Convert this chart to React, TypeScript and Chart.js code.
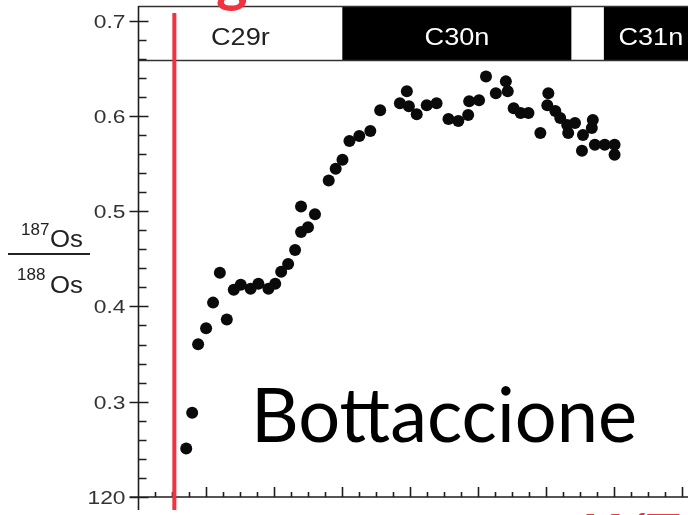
import React, { useEffect, useRef } from "react";
import { Chart, registerables } from "chart.js";

Chart.register(...registerables);

// Stratigraphic position (arbitrary height units) and measured 187Os/188Os
const heights = [
  2.81, 3.16, 3.51, 3.98, 4.39, 4.79, 5.2, 5.61, 6.02, 6.6, 7.06, 7.65, 8.05, 8.4, 8.81,
  9.22, 9.57, 9.57, 9.98, 10.39, 11.2, 11.61, 12.01, 12.42, 13.0, 13.65, 14.23, 15.39,
  15.8, 15.92, 16.38, 16.97, 17.55, 18.25, 18.83, 19.41, 19.47, 20.05, 20.46, 21.04,
  21.63, 21.74, 22.09, 22.5, 22.96, 23.66, 24.07, 24.13, 24.54, 24.83, 25.24, 25.3,
  25.7, 26.11, 26.17, 26.69, 26.75, 26.87, 27.45, 28.03, 28.03,
];
const osRatio = [
  0.251, 0.2885, 0.3603, 0.377, 0.404, 0.4353, 0.3863, 0.4176, 0.4228, 0.4186, 0.4238,
  0.4186, 0.4238, 0.4363, 0.4446, 0.4592, 0.478, 0.505, 0.4832, 0.4967, 0.5321, 0.5446,
  0.5539, 0.5737, 0.5789, 0.5841, 0.606, 0.6133, 0.6258, 0.6102, 0.6018, 0.6112, 0.6133,
  0.5966, 0.5945, 0.6008, 0.6154, 0.6164, 0.6414, 0.6237, 0.6362, 0.6258, 0.6081,
  0.6029, 0.6029, 0.582, 0.6112, 0.6237, 0.605, 0.5977, 0.5904, 0.582, 0.5924, 0.5633,
  0.58, 0.5873, 0.5956, 0.5696, 0.5696, 0.5696, 0.5592,
];

// Magnetic polarity chrons along the section
const chronNames = ["C29r", "C30n", "", "C31n"];
const chronStart = [0, 12, 25.5, 27.4];
const chronEnd = [12, 25.5, 27.4, 40];
const chronNormal = [false, true, false, true];

// Axis ticks
const yTickValues = [0.2, 0.3, 0.4, 0.5, 0.6, 0.7];
const yTickLabels = ["120", "0.3", "0.4", "0.5", "0.6", "0.7"];
const X_MIN = 0;
const X_MAX = 32;
const Y_MIN = 0.2;
const Y_MAX = 0.7153;
const BAND_BOTTOM = 0.658;
const BOUNDARY_X = 2.11;
const BOUNDARY_TOP = 0.708;

function drawText(
  ctx: CanvasRenderingContext2D,
  s: string,
  x: number,
  y: number,
  font: string,
  color: string,
  align: CanvasTextAlign,
  sx = 1
) {
  ctx.save();
  ctx.font = font;
  ctx.fillStyle = color;
  ctx.textBaseline = "alphabetic";
  ctx.textAlign = align;
  ctx.translate(x, y);
  ctx.scale(sx, 1);
  ctx.fillText(s, 0, 0);
  ctx.restore();
}

const backdrop = {
  id: "backdrop",
  beforeDraw(chart: any) {
    const { ctx, chartArea, scales } = chart;
    const xs = scales.x;
    const ys = scales.y;
    ctx.save();
    ctx.fillStyle = "#ffffff";
    ctx.fillRect(0, 0, chart.width, chart.height);

    // polarity band
    const top = ys.getPixelForValue(Y_MAX);
    const bot = ys.getPixelForValue(BAND_BOTTOM);
    for (let i = 0; i < chronNames.length; i++) {
      const a = Math.max(xs.getPixelForValue(chronStart[i]), chartArea.left);
      const b = Math.min(xs.getPixelForValue(chronEnd[i]), chart.width);
      ctx.fillStyle = chronNormal[i] ? "#000000" : "#ffffff";
      ctx.fillRect(a, top, b - a, bot - top);
      if (chronNames[i]) {
        const cx = chronEnd[i] > X_MAX ? a + 47 : (a + b) / 2;
        drawText(
          ctx,
          chronNames[i],
          cx,
          top + 39,
          "24px 'Liberation Sans', Arial, sans-serif",
          chronNormal[i] ? "#ffffff" : "#222222",
          "center",
          1.13
        );
      }
    }
    ctx.strokeStyle = "#333333";
    ctx.lineWidth = 1.5;
    ctx.beginPath();
    ctx.moveTo(chartArea.left, top + 0.5);
    ctx.lineTo(chart.width, top + 0.5);
    ctx.moveTo(chartArea.left, bot);
    ctx.lineTo(chart.width, bot);
    ctx.stroke();
    ctx.restore();
  },
  afterDraw(chart: any) {
    const { ctx, chartArea, scales } = chart;
    const xs = scales.x;
    const ys = scales.y;
    const x0 = chartArea.left;
    const yAxis = ys.getPixelForValue(Y_MIN);
    ctx.save();
    ctx.strokeStyle = "#1e1e1e";
    ctx.lineWidth = 1.6;

    // y axis with crossing major ticks and inner minor ticks
    ctx.beginPath();
    ctx.moveTo(x0, ys.getPixelForValue(Y_MAX));
    ctx.lineTo(x0, yAxis + 13);
    for (let v = 0.2; v <= 0.7001; v += 0.02) {
      const p = Math.round(ys.getPixelForValue(v)) + 0.5;
      const major = Math.abs(v * 10 - Math.round(v * 10)) < 1e-6;
      ctx.moveTo(major ? x0 - 9 : x0, p);
      ctx.lineTo(major ? x0 + 10 : x0 + 8, p);
    }
    // x axis with upward ticks
    ctx.moveTo(x0 - 9, yAxis);
    ctx.lineTo(chart.width, yAxis);
    for (let v = X_MIN + 1; v <= X_MAX; v += 1) {
      const p = Math.round(xs.getPixelForValue(v)) + 0.5;
      ctx.moveTo(p, yAxis);
      ctx.lineTo(p, yAxis - (v % 4 === 0 ? 10 : 5));
    }
    ctx.stroke();

    yTickValues.forEach((v, i) => {
      drawText(
        ctx,
        yTickLabels[i],
        x0 - 13,
        ys.getPixelForValue(v) + 7,
        "19px 'Liberation Sans', Arial, sans-serif",
        "#333333",
        "right",
        1.2
      );
    });

    // axis title: 187Os / 188Os
    const tf = "'Liberation Sans', Arial, sans-serif";
    drawText(ctx, "187", 21, 235, `17px ${tf}`, "#222222", "left", 1.0);
    drawText(ctx, "Os", 50, 247, `23px ${tf}`, "#222222", "left", 1.12);
    ctx.fillStyle = "#222222";
    ctx.fillRect(8, 253, 82, 2);
    drawText(ctx, "188", 17, 280, `17px ${tf}`, "#222222", "left", 1.0);
    drawText(ctx, "Os", 50, 293, `23px ${tf}`, "#222222", "left", 1.12);

    // boundary marker
    const bx = xs.getPixelForValue(BOUNDARY_X);
    ctx.strokeStyle = "#f2323e";
    ctx.lineWidth = 4;
    ctx.beginPath();
    ctx.moveTo(bx, ys.getPixelForValue(BOUNDARY_TOP));
    ctx.lineTo(bx, yAxis + 13);
    ctx.stroke();

    // section name
    ctx.font = "76px Lato, sans-serif";
    const w = ctx.measureText("Bottaccione").width;
    drawText(ctx, "Bottaccione", 251, 442, "76px Lato, sans-serif", "#000000", "left", 386 / w);

    // red captions running past the frame
    drawText(ctx, "g", 216, 0, "bold 60px Lato, sans-serif", "#f2323e", "left", 1);
    drawText(ctx, "K/T", 582, 554, "bold 56px Lato, sans-serif", "#f2323e", "left", 1);
    ctx.restore();
  },
};

export default function App() {
  const ref = useRef<HTMLCanvasElement | null>(null);
  useEffect(() => {
    if (!ref.current) return;
    const points = heights.map((h, i) => ({ x: h, y: osRatio[i] }));
    const chart = new Chart(ref.current, {
      type: "scatter",
      data: {
        datasets: [
          {
            data: points,
            pointRadius: 6,
            pointBackgroundColor: "#0a0a0a",
            pointBorderWidth: 0,
            pointHoverRadius: 6,
          },
        ],
      },
      options: {
        responsive: false,
        animation: false,
        devicePixelRatio: 1,
        layout: { padding: { left: 138.5, right: 0, top: 2, bottom: 18 } },
        plugins: { legend: { display: false }, tooltip: { enabled: false } },
        scales: {
          x: { type: "linear", min: X_MIN, max: X_MAX, display: false },
          y: { type: "linear", min: Y_MIN, max: Y_MAX, display: false },
        },
      },
      plugins: [backdrop],
    });
    return () => chart.destroy();
  }, []);
  return (
    <div style={{ position: "absolute", left: 0, top: 0, width: 688, height: 515, background: "#fff" }}>
      <canvas ref={ref} width={688} height={515} />
    </div>
  );
}
